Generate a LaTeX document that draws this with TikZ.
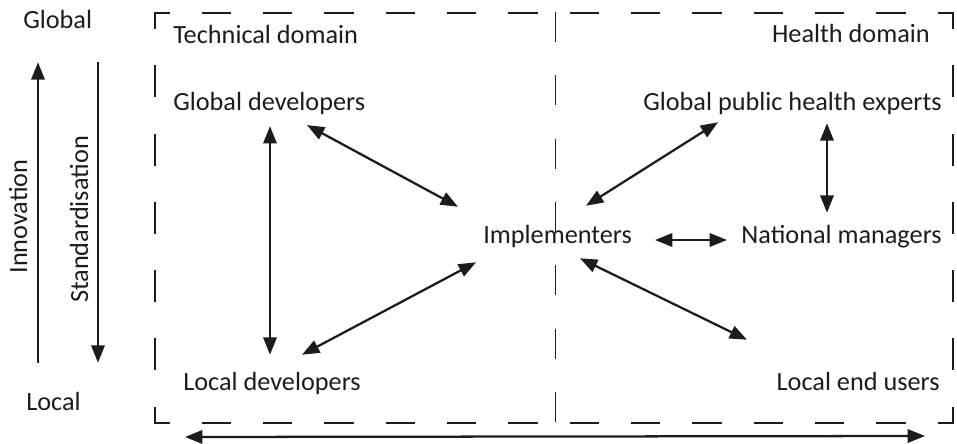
\documentclass[tikz,border=0pt]{standalone}
\usepackage{fontspec}
\setmainfont{Carlito}
\usetikzlibrary{arrows.meta}
\definecolor{ink}{HTML}{1E1B1C}
\begin{document}
\begin{tikzpicture}[x=0.75pt,y=-0.75pt,
  lbl/.style={inner sep=0pt,text height=13.5pt,text depth=4pt,
    font=\fontsize{19.7}{23}\selectfont,text=ink},
  link/.style={draw=ink,line width=1.7pt,
    {Triangle[length=13pt,width=10pt]}-{Triangle[length=13pt,width=10pt]}},
  axis/.style={draw=ink,line width=1.7pt,-{Triangle[length=13pt,width=10pt]}},
  frame/.style={draw=ink,line width=2.1pt,line cap=rect},
  wide/.style={dash pattern=on 20pt off 26pt,dash phase=10pt},
  tall/.style={dash pattern=on 21.9pt off 29.3pt,dash phase=10.95pt}]
\useasboundingbox (0,0) rectangle (957,443);
\coordinate (tl) at (155,13);
\coordinate (tr) at (953,13);
\coordinate (bl) at (155,423);
\coordinate (br) at (953,423);
\coordinate (dtop) at (555.5,12);
\coordinate (dbot) at (555.5,423);
\draw[frame,wide] (tl) -- (tr);
\draw[frame,wide] (bl) -- (br);
\draw[frame,tall] (tl) -- (bl);
\draw[frame,tall] (tr) -- (br);
\draw[ink,line width=0.8pt,dash pattern=on 22.5pt off 25pt] (dtop) -- (dbot);

\node[lbl,anchor=base west] (glob) at (23,28) {Global};
\node[lbl,anchor=base west] (loc) at (26,410) {Local};
\node[lbl,anchor=base,rotate=90] (innov) at (27,216.5) {Innovation};
\node[lbl,anchor=base,rotate=90] (stand) at (88,219.5) {Standardisation};
\node[lbl,anchor=base west] (techdom) at (173,43) {Technical domain};
\node[lbl,anchor=base east] (healthdom) at (930,42) {Health domain};

\node[lbl,anchor=base west] (glodev) at (173,110) {Global developers};
\node[lbl,anchor=base west] (locdev) at (183,390) {Local developers};
\node[lbl,anchor=base west] (impl) at (483,243) {Implementers};
\node[lbl,anchor=base east] (gphe) at (942,110) {Global public health experts};
\node[lbl,anchor=base east] (natman) at (942,243) {National managers};
\node[lbl,anchor=base east] (locend) at (940,390) {Local end users};

\draw[axis] ([shift={(12,-29)}]loc.north west) -- ([shift={(15,28.7)}]glob.south west);
\draw[axis] ([shift={(75,28.7)}]glob.south west) -- ([shift={(72,-29)}]loc.north west);
\draw[link] ([shift={(30,14)}]bl) -- ([shift={(-28,13)}]br);

\draw[link] ([shift={(97,10.5)}]glodev.south west) -- ([shift={(87,-17)}]locdev.north west);
\draw[link] ([shift={(134,9.5)}]glodev.south west) -- ([shift={(-25,-18)}]impl.north west);
\draw[link] ([shift={(119,-17)}]locdev.north west) -- ([shift={(-7,13.7)}]impl.south west);
\draw[link] ([shift={(103,-19)}]impl.north west) -- ([shift={(-224,6.7)}]gphe.south east);
\draw[link] ([shift={(-115,7.7)}]gphe.south east) -- ([shift={(-115,-12)}]natman.north east);
\draw[link] ([shift={(172,-3)}]impl.base west) -- ([shift={(-215,-3)}]natman.base east);
\draw[link] ([shift={(97,9.7)}]impl.south west) -- ([shift={(-193,-32)}]locend.north east);
\end{tikzpicture}
\end{document}
